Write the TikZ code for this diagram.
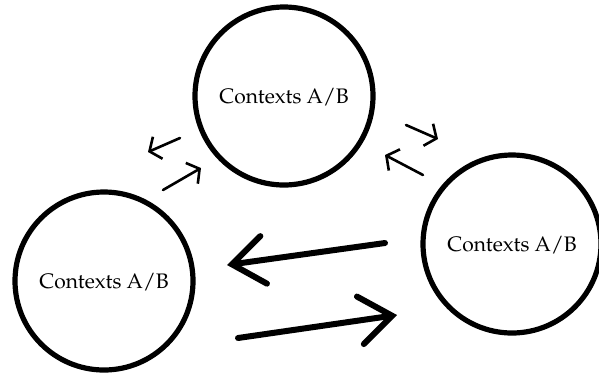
\documentclass[tikz,border=0pt]{standalone}
\usepackage[T1]{fontenc}
\usepackage{mathpazo}
\usetikzlibrary{arrows.meta}

\begin{document}
\begin{tikzpicture}[x=0.5pt,y=-0.5pt,
    ctx/.style={draw,circle,line width=2.6pt,minimum size=89pt,inner sep=0pt,text depth=0pt,font=\fontsize{10.5}{12}\selectfont},
    bigarr/.style={line width=3pt,line cap=round,-{Straight Barb[length=16pt,width=24pt,line cap=round]}},
    smallarr/.style={line width=1.3pt,line cap=round,-{Straight Barb[length=4.5pt,width=12pt]}}]
    \useasboundingbox (0,0) rectangle (599,376);

    % the three contexts
    \node[ctx] (top) at (284,96) {Contexts A/B};
    \node[ctx] (left) at (104,281) {Contexts A/B};
    \node[ctx] (right) at (512,244) {Contexts A/B};

    % arrow ends
    \coordinate (lt1) at (180,138); \coordinate (lh1) at (148,152);
    \coordinate (lt2) at (163,190); \coordinate (lh2) at (201,168);
    \coordinate (rt1) at (406,125); \coordinate (rh1) at (438,139);
    \coordinate (rt2) at (423,175); \coordinate (rh2) at (385,155);
    \coordinate (bt1) at (385,243); \coordinate (bh1) at (227,265);
    \coordinate (bt2) at (238,338); \coordinate (bh2) at (397,315);

    \draw[smallarr] (lt1) -- (lh1);
    \draw[smallarr] (lt2) -- (lh2);
    \draw[smallarr] (rt1) -- (rh1);
    \draw[smallarr] (rt2) -- (rh2);
    \draw[bigarr] (bt1) -- (bh1);
    \draw[bigarr] (bt2) -- (bh2);
\end{tikzpicture}
\end{document}
